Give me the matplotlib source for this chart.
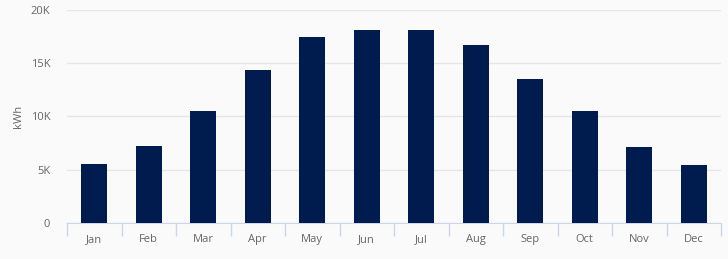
import matplotlib.pyplot as plt
import numpy as np

months = ["Jan", "Feb", "Mar", "Apr", "May", "Jun",
          "Jul", "Aug", "Sep", "Oct", "Nov", "Dec"]
energy_kwh = [5500, 7200, 10500, 14400, 17500, 18100,
              18100, 16700, 13500, 10500, 7100, 5400]
y_ticks = [0, 5000, 10000, 15000, 20000]
y_tick_labels = ["0", "5K", "10K", "15K", "20K"]

plt.rcParams["font.family"] = ["Open Sans", "DejaVu Sans"]

fig = plt.figure(figsize=(7.28, 2.59), dpi=100, facecolor="#fafafa")
ax = fig.add_axes([67 / 728, 36 / 259, 654 / 728, 213 / 259])
ax.set_facecolor("#fafafa")

x = np.arange(len(months))
ax.bar(x, energy_kwh, width=0.48, color="#001c4e", zorder=3)

ax.set_xlim(-0.5, len(months) - 0.5)
ax.set_ylim(0, 20000)
ax.set_yticks(y_ticks)
ax.set_yticklabels(y_tick_labels, fontsize=8, color="#666666")
ax.set_xticks(x)
ax.set_xticklabels(months, fontsize=8, color="#666666")
ax.tick_params(axis="x", length=0, pad=8)
ax.tick_params(axis="y", length=0, pad=12)

# category boundary ticks like highcharts
ax.set_xticks(np.arange(-0.5, len(months)), minor=True)
ax.tick_params(axis="x", which="minor", length=9, color="#ccd6eb", width=1)

ax.grid(axis="y", color="#e6e6e6", linewidth=1, zorder=0)
for side in ["top", "right", "left"]:
    ax.spines[side].set_visible(False)
ax.spines["bottom"].set_color("#ccd6eb")

ax.set_ylabel("kWh", fontsize=8, color="#666666", labelpad=5)

fig.savefig("out.png", dpi=100, facecolor=fig.get_facecolor())
